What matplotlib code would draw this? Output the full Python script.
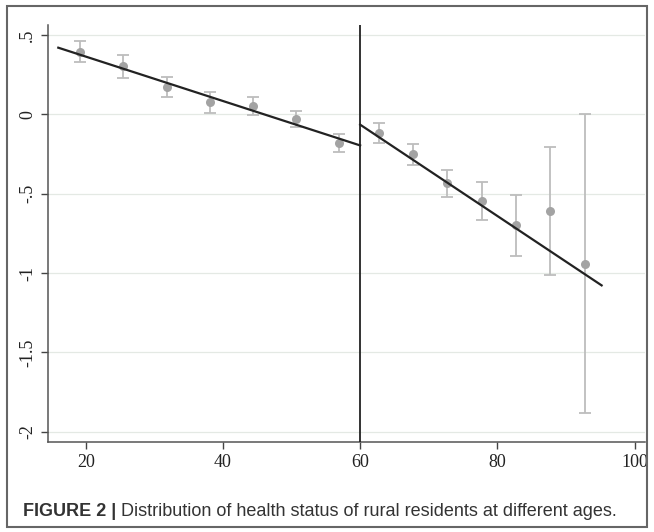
import numpy as np
import matplotlib
matplotlib.use('Agg')
import matplotlib.pyplot as plt
from matplotlib.patches import Rectangle

# bin midpoints (age), mean health score and 95% CI
age_left = [19.1, 25.5, 31.8, 38.1, 44.4, 50.7, 56.9]
mean_left = [0.394, 0.304, 0.173, 0.076, 0.053, -0.030, -0.180]
lo_left = [0.327, 0.230, 0.110, 0.010, -0.006, -0.080, -0.239]
hi_left = [0.464, 0.373, 0.234, 0.139, 0.108, 0.019, -0.125]

age_right = [62.7, 67.7, 72.7, 77.7, 82.7, 87.7, 92.8]
mean_right = [-0.118, -0.253, -0.430, -0.549, -0.698, -0.610, -0.941]
lo_right = [-0.180, -0.320, -0.519, -0.667, -0.892, -1.015, -1.880]
hi_right = [-0.055, -0.190, -0.348, -0.428, -0.508, -0.204, 0.002]

# fitted lines (end points)
fit_left_x = [16.0, 60.0]
fit_left_y = [0.420, -0.196]
fit_right_x = [60.0, 95.2]
fit_right_y = [-0.065, -1.078]

cutoff = 60
yticks = [0.5, 0, -0.5, -1, -1.5, -2]
ytick_labels = ['.5', '0', '-.5', '-1', '-1.5', '-2']
xticks = [20, 40, 60, 80, 100]

fig = plt.figure(figsize=(6.54, 5.32), dpi=100)
ax = fig.add_axes([0.0734, 0.1686, 0.9126, 0.7844])

for y in yticks:
    ax.axhline(y, color='#e4e9e4', lw=0.9, zorder=0)

for xs, ms, lo, hi in [(age_left, mean_left, lo_left, hi_left),
                       (age_right, mean_right, lo_right, hi_right)]:
    ms = np.array(ms)
    err = [ms - np.array(lo), np.array(hi) - ms]
    ax.errorbar(xs, ms, yerr=err, fmt='none', ecolor='#bdbdbd', elinewidth=1.3,
                capsize=4, capthick=1.3, zorder=2)
    ax.plot(xs, ms, 'o', color='#a3a3a3', ms=6.5, mec='none', zorder=3)

ax.plot(fit_left_x, fit_left_y, color='#222222', lw=1.6, zorder=4)
ax.plot(fit_right_x, fit_right_y, color='#222222', lw=1.6, zorder=4)
ax.axvline(cutoff, color='#222222', lw=1.3, zorder=4)

ax.set_xlim(14.5, 101.5)
ax.set_ylim(-2.067, 0.563)
ax.set_xticks(xticks)
ax.set_yticks(yticks)
ax.set_yticklabels(ytick_labels, rotation=90, va='center')
for sp in ['top', 'right']:
    ax.spines[sp].set_visible(False)
for sp in ['left', 'bottom']:
    ax.spines[sp].set_color('#555555')
    ax.spines[sp].set_linewidth(1.1)
ax.tick_params(direction='out', length=5, width=1, color='#444444',
               labelsize=13, labelcolor='#222222')
for lab in ax.get_xticklabels() + ax.get_yticklabels():
    lab.set_family(['Liberation Serif', 'DejaVu Serif'])

# outer frame
fig.patches.append(Rectangle((7 / 654, 1 - 527 / 532), 640 / 654, 521 / 532,
                             transform=fig.transFigure, fill=False,
                             edgecolor='#666666', lw=1.5))

cap_font = ['Liberation Sans Narrow', 'Liberation Sans', 'DejaVu Sans']
t = fig.text(23 / 654, 1 - 511 / 532, 'FIGURE 2 | ', fontsize=13, weight='bold',
             family=cap_font, color='#333333', va='center')
fig.canvas.draw()
bb = t.get_window_extent()
fig.text(bb.x1 / 654, 1 - 511 / 532,
         'Distribution of health status of rural residents at different ages.',
         fontsize=13, family=cap_font, color='#333333', va='center')

fig.savefig('out.png', dpi=100)
